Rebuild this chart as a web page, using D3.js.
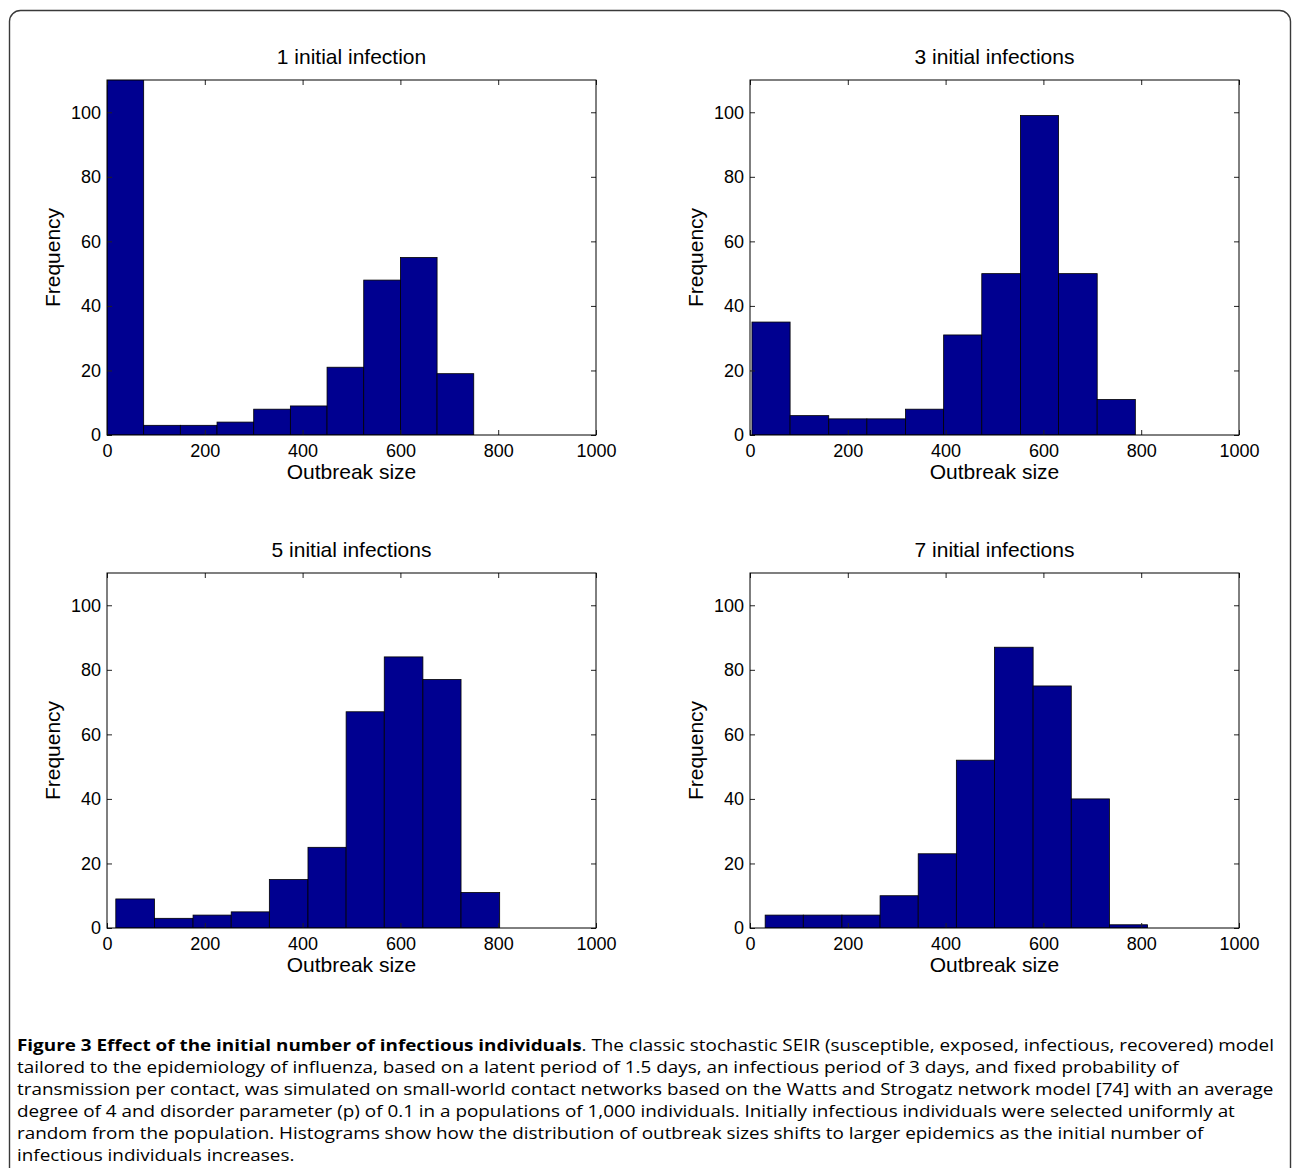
<!DOCTYPE html>
<meta charset="utf-8">
<html>
<head>
<title>Figure 3 - initial infections</title>
<style>
  body { margin: 0; background: #fff; }
  svg text { font-family: "Liberation Sans", Arial, Helvetica, sans-serif; fill: #000; }
  .caption text { font-family: "Open Sans", "Noto Sans", sans-serif; }
</style>
</head>
<body>
<div id="fig"></div>

<script src="https://d3js.org/d3.v7.min.js"></script>
<script>

// panel titles
var titles = ["1 initial infection", "3 initial infections", "5 initial infections", "7 initial infections"];

// histogram bin edges (outbreak size)
var edges1 = [0, 75, 150, 225, 300, 375, 450, 525, 600, 675, 750];
var edges3 = [4, 82, 161, 239, 318, 396, 474, 553, 631, 710, 788];
var edges5 = [18, 97, 176, 254, 332, 411, 489, 567, 646, 724, 803];
var edges7 = [31, 109, 188, 266, 344, 422, 500, 579, 657, 735, 813];

// counts per bin (300 runs per panel), first bar of panel 1 runs off the top
var counts1 = [130, 3, 3, 4, 8, 9, 21, 48, 55, 19];
var counts3 = [35, 6, 5, 5, 8, 31, 50, 99, 50, 11];
var counts5 = [9, 3, 4, 5, 15, 25, 67, 84, 77, 11];
var counts7 = [4, 4, 4, 10, 23, 52, 87, 75, 40, 1];

var xTicks = [0, 200, 400, 600, 800, 1000];
var yTicks = [0, 20, 40, 60, 80, 100];

var captionBold = "Figure 3 Effect of the initial number of infectious individuals";
var captionLines = [
  ". The classic stochastic SEIR (susceptible, exposed, infectious, recovered) model",
  "tailored to the epidemiology of influenza, based on a latent period of 1.5 days, an infectious period of 3 days, and fixed probability of",
  "transmission per contact, was simulated on small-world contact networks based on the Watts and Strogatz network model [74] with an average",
  "degree of 4 and disorder parameter (p) of 0.1 in a populations of 1,000 individuals. Initially infectious individuals were selected uniformly at",
  "random from the population. Histograms show how the distribution of outbreak sizes shifts to larger epidemics as the initial number of",
  "infectious individuals increases."
];

var W = 1293, H = 1168;
var pw = 489, ph = 355;
var spots = [[107, 80], [750, 80], [107, 573], [750, 573]];
var panels = [
  {edges: edges1, counts: counts1},
  {edges: edges3, counts: counts3},
  {edges: edges5, counts: counts5},
  {edges: edges7, counts: counts7}
];

var svg = d3.select("#fig").append("svg")
  .attr("width", W)
  .attr("height", H);

// outer frame, bottom edge runs past the picture
svg.append("rect")
  .attr("x", 9.5).attr("y", 10.5)
  .attr("width", 1281).attr("height", 1220)
  .attr("rx", 11)
  .attr("fill", "none")
  .attr("stroke", "#3a3a3a")
  .attr("stroke-width", 1.4);

var x = d3.scaleLinear().domain([0, 1000]).range([0, pw]);
var y = d3.scaleLinear().domain([0, 110]).range([ph, 0]);

svg.append("defs").append("clipPath")
  .attr("id", "plotclip")
  .append("rect")
  .attr("width", pw).attr("height", ph);

panels.forEach(function(p, k) {
  var g = svg.append("g")
    .attr("transform", "translate(" + spots[k][0] + "," + spots[k][1] + ")");

  var bins = p.counts.map(function(c, i) {
    return {x0: p.edges[i], x1: p.edges[i + 1], n: c};
  });

  g.append("g")
    .attr("clip-path", "url(#plotclip)")
    .selectAll("rect")
    .data(bins)
    .enter()
    .append("rect")
    .attr("x", function(d) { return x(d.x0); })
    .attr("y", function(d) { return y(d.n); })
    .attr("width", function(d) { return x(d.x1) - x(d.x0); })
    .attr("height", function(d) { return y(0) - y(d.n); })
    .attr("fill", "#000090")
    .attr("stroke", "#000")
    .attr("stroke-width", 0.8);

  // inward ticks on all four sides, matlab style
  g.append("g")
    .attr("transform", "translate(0," + ph + ")")
    .call(d3.axisBottom(x).tickValues(xTicks).tickFormat(d3.format("d"))
      .tickSizeInner(-5).tickSizeOuter(0).tickPadding(9));
  g.append("g")
    .call(d3.axisLeft(y).tickValues(yTicks).tickFormat(d3.format("d"))
      .tickSizeInner(-5).tickSizeOuter(0).tickPadding(6));
  g.append("g")
    .call(d3.axisTop(x).tickValues(xTicks).tickSizeInner(-5).tickSizeOuter(0).tickFormat(""));
  g.append("g")
    .attr("transform", "translate(" + pw + ",0)")
    .call(d3.axisRight(y).tickValues(yTicks).tickSizeInner(-5).tickSizeOuter(0).tickFormat(""));

  g.selectAll(".domain").remove();
  g.selectAll(".tick line").attr("stroke", "#222");
  g.selectAll(".tick text")
    .style("font-size", "18px")
    .style("font-family", "'Liberation Sans', Arial, sans-serif")
    .attr("fill", "#000");

  g.append("rect")
    .attr("width", pw).attr("height", ph)
    .attr("fill", "none")
    .attr("stroke", "#000")
    .attr("stroke-width", 1);

  g.append("text")
    .attr("x", pw / 2).attr("y", -23)
    .attr("dy", "0.35em")
    .attr("text-anchor", "middle")
    .style("font-size", "21px")
    .text(titles[k]);

  g.append("text")
    .attr("x", pw / 2).attr("y", ph + 37)
    .attr("dy", "0.35em")
    .attr("text-anchor", "middle")
    .style("font-size", "21px")
    .text("Outbreak size");

  g.append("text")
    .attr("transform", "translate(-54," + (ph / 2) + ")rotate(-90)")
    .attr("dy", "0.35em")
    .attr("text-anchor", "middle")
    .style("font-size", "21px")
    .text("Frequency");
});

// caption: stretched sideways so the lines span the frame without colliding
var cap = svg.append("g")
  .attr("class", "caption")
  .attr("transform", "translate(17,0) scale(1.18,1)");
captionLines.forEach(function(line, i) {
  var t = cap.append("text")
    .attr("x", 0)
    .attr("y", 1045 + i * 22)
    .attr("dy", "0.35em")
    .style("font-size", "16px")
    .attr("fill", "#222");
  if (i === 0) {
    t.append("tspan").style("font-weight", "bold").text(captionBold);
  }
  t.append("tspan").text(line);
});

</script>
</body>
</html>
